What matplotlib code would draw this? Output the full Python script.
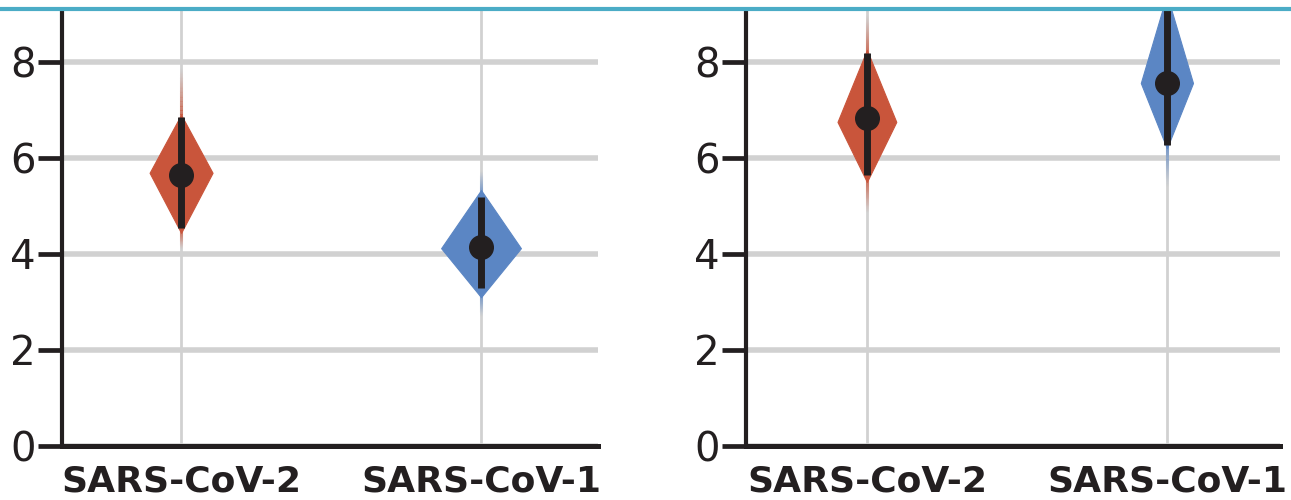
import matplotlib.pyplot as plt
from matplotlib.collections import LineCollection
from matplotlib.lines import Line2D
import numpy as np

categories = ["SARS-CoV-2", "SARS-CoV-1"]
colors = ["#c9553b", "#5b86c4"]
yticks = [0, 2, 4, 6, 8]

# left panel
a_median = [5.65, 4.15]
a_low = [4.54, 3.29]
a_high = [6.85, 5.19]
a_peak = [5.69, 4.12]
a_halfwidth = [0.105, 0.133]
a_body_low = [4.44, 3.10]
a_body_high = [6.90, 5.33]
a_tail_low = [4.10, 2.70]
a_tail_high = [7.90, 5.75]

# right panel
b_median = [6.83, 7.56]
b_low = [5.65, 6.27]
b_high = [8.19, 9.30]
b_peak = [6.75, 7.56]
b_halfwidth = [0.098, 0.087]
b_body_low = [5.50, 6.20]
b_body_high = [8.25, 9.40]
b_tail_low = [4.85, 5.40]
b_tail_high = [9.00, 9.90]

black = "#231f20"
grid = "#d1d1d1"


def tail(ax, x, y0, y1, color):
    # thin line fading out from the body
    ys = np.linspace(y0, y1, 40)
    segs = [[(x, ys[i]), (x, ys[i + 1])] for i in range(len(ys) - 1)]
    alphas = np.linspace(1, 0, len(segs)) ** 1.3
    rgba = [plt.matplotlib.colors.to_rgba(color, a) for a in alphas]
    ax.add_collection(LineCollection(segs, colors=rgba, linewidths=2.2, zorder=3))


def panel(ax, median, low, high, peak, half, body_low, body_high, tail_low, tail_high, xlim):
    pos = np.arange(len(categories))
    stats = []
    for i in range(len(categories)):
        stats.append({"coords": [body_low[i], peak[i], body_high[i]],
                      "vals": [0.0, 1.0, 0.0],
                      "mean": median[i], "median": median[i],
                      "min": tail_low[i], "max": tail_high[i]})
    parts = ax.violin(stats, positions=pos, widths=[2 * h for h in half],
                      showmeans=False, showextrema=False, showmedians=False)
    for body, c in zip(parts["bodies"], colors):
        body.set_facecolor(c)
        body.set_edgecolor(c)
        body.set_linewidth(0.8)
        body.set_alpha(1)
        body.set_zorder(3)
    for i in range(len(categories)):
        tail(ax, pos[i], body_high[i] - 0.05, tail_high[i], colors[i])
        tail(ax, pos[i], body_low[i] + 0.05, tail_low[i], colors[i])
    ax.vlines(pos, low, high, color=black, lw=5, zorder=4)
    ax.plot(pos, median, "o", ms=17, color=black, zorder=5)

    ax.set_xlim(*xlim)
    ax.set_ylim(0, 9.06)
    ax.set_yticks(yticks)
    ax.set_xticks(pos, categories, fontweight="bold")
    ax.spines[["top", "right"]].set_visible(False)
    ax.spines["left"].set_linewidth(3)
    ax.spines["bottom"].set_linewidth(3.6)
    ax.spines["left"].set_color(black)
    ax.spines["bottom"].set_color(black)
    ax.tick_params(axis="y", length=17, width=3.4, pad=2, labelsize=29,
                   color=black, labelcolor=black)
    ax.tick_params(axis="x", length=0, pad=13, labelsize=26, labelcolor=black)
    ax.set_axisbelow(True)
    ax.yaxis.grid(True, color=grid, lw=4)
    ax.xaxis.grid(True, color=grid, lw=2)


fig = plt.figure(figsize=(12.91, 5), dpi=100)
ax1 = fig.add_axes([62 / 1291, 54 / 500, 536 / 1291, 435 / 500])
ax2 = fig.add_axes([746 / 1291, 54 / 500, 534 / 1291, 435 / 500])

panel(ax1, a_median, a_low, a_high, a_peak, a_halfwidth, a_body_low, a_body_high,
      a_tail_low, a_tail_high, (-0.397, 1.39))
panel(ax2, b_median, b_low, b_high, b_peak, b_halfwidth, b_body_low, b_body_high,
      b_tail_low, b_tail_high, (-0.403, 1.377))

fig.add_artist(Line2D([0, 1], [1 - 9 / 500, 1 - 9 / 500], transform=fig.transFigure,
                      color="#4bacc6", lw=3))

fig.savefig("out.png", dpi=100)
